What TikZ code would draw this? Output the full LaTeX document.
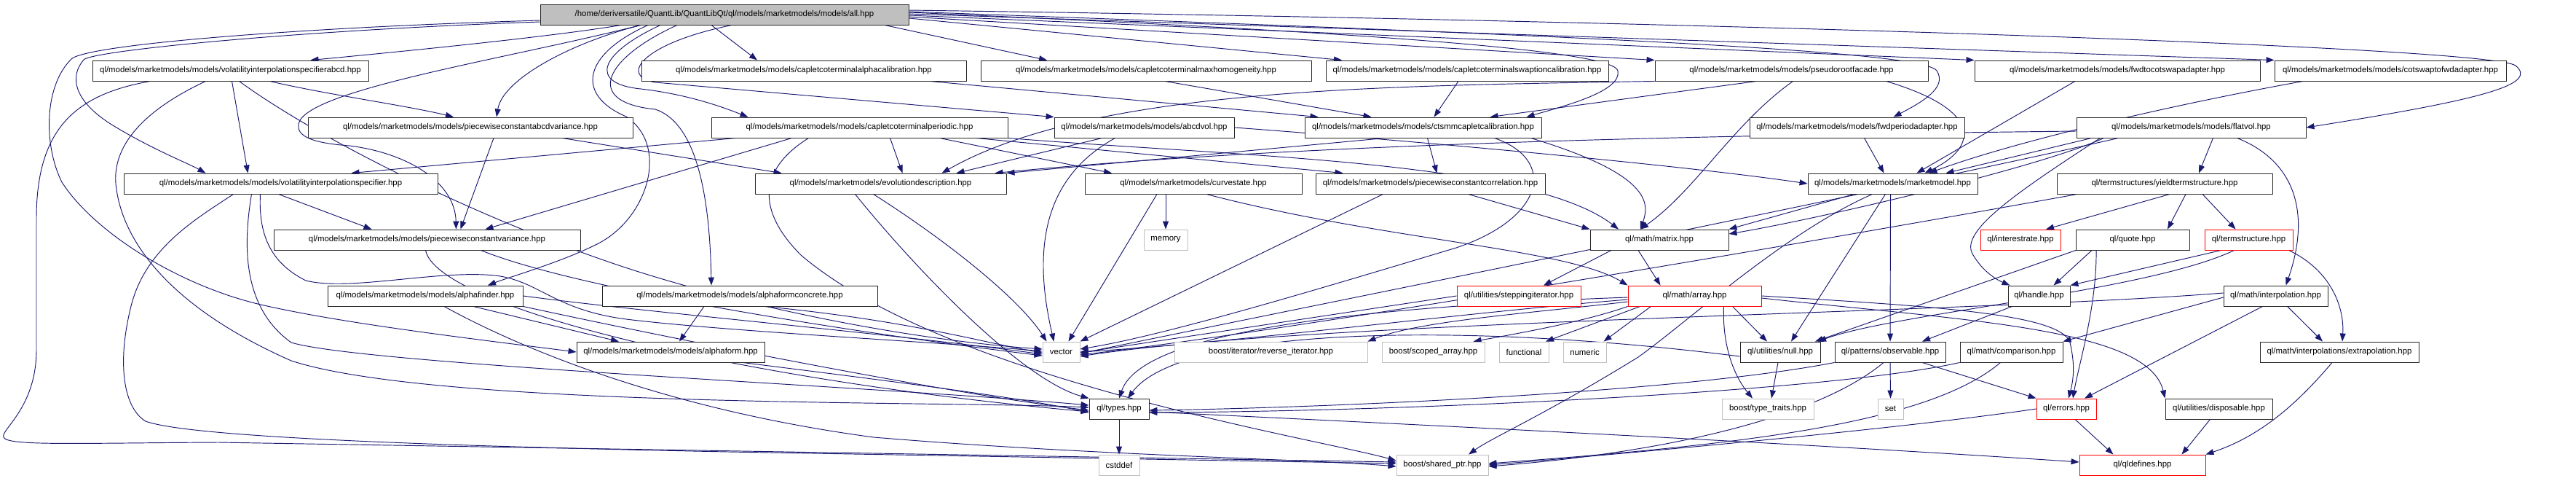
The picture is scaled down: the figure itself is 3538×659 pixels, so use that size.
\documentclass[tikz,border=0pt]{standalone}
\usepackage{fontspec}
\setmainfont{Liberation Sans}
\usetikzlibrary{arrows.meta}
\definecolor{edgec}{HTML}{191970}
\definecolor{rootfill}{HTML}{BFBFBF}
\definecolor{sysc}{HTML}{BFBFBF}
\pgfdeclarelayer{bg}
\pgfsetlayers{bg,main}
\begin{document}
\begin{tikzpicture}[x=1pt,y=-1pt,
  box/.style={draw=black!85,line width=0.9pt,fill=white,minimum height=28pt,inner sep=0pt,font=\fontsize{11.4}{13}\selectfont},
  rootbox/.style={box,fill=rootfill},
  redbox/.style={box,draw=red},
  sysbox/.style={box,draw=sysc},
  edge/.style={draw=edgec,line width=0.95pt,-{Triangle[length=11pt,width=8pt]}}]
\useasboundingbox (0,0) rectangle (3538,659);
% row 0
\node[rootbox,minimum width=506pt] (R) at (995,20) {/home/deriversatile/QuantLib/QuantLibQt/ql/models/marketmodels/models/all.hpp};
% row 1
\node[box,minimum width=379pt] (VIA) at (316.5,97) {ql/models/marketmodels/models/volatilityinterpolationspecifierabcd.hpp};
\node[box,minimum width=446pt] (CAC) at (1104,97) {ql/models/marketmodels/models/capletcoterminalalphacalibration.hpp};
\node[box,minimum width=454pt] (CMH) at (1574,97) {ql/models/marketmodels/models/capletcoterminalmaxhomogeneity.hpp};
\node[box,minimum width=388pt] (CSC) at (2015,97) {ql/models/marketmodels/models/capletcoterminalswaptioncalibration.hpp};
\node[box,minimum width=375pt] (PRF) at (2460.5,97) {ql/models/marketmodels/models/pseudorootfacade.hpp};
\node[box,minimum width=392pt] (F2C) at (2908,97) {ql/models/marketmodels/models/fwdtocotswapadapter.hpp};
\node[box,minimum width=318pt] (C2F) at (3283,97) {ql/models/marketmodels/models/cotswaptofwdadapter.hpp};
% row 2
\node[box,minimum width=446pt] (PCAV) at (646,175) {ql/models/marketmodels/models/piecewiseconstantabcdvariance.hpp};
\node[box,minimum width=407pt] (CP) at (1180.5,175) {ql/models/marketmodels/models/capletcoterminalperiodic.hpp};
\node[box,minimum width=247pt] (ABCD) at (1571.5,175) {ql/models/marketmodels/models/abcdvol.hpp};
\node[box,minimum width=325pt] (CTS) at (1954.5,175) {ql/models/marketmodels/models/ctsmmcapletcalibration.hpp};
\node[box,minimum width=295pt] (FPA) at (2550.5,175) {ql/models/marketmodels/models/fwdperiodadapter.hpp};
\node[box,minimum width=315pt] (FV) at (3009.5,175) {ql/models/marketmodels/models/flatvol.hpp};
% row 3
\node[box,minimum width=431pt] (VI) at (385.5,252) {ql/models/marketmodels/models/volatilityinterpolationspecifier.hpp};
\node[box,minimum width=345pt] (ED) at (1209.5,252) {ql/models/marketmodels/evolutiondescription.hpp};
\node[box,minimum width=298pt] (CS) at (1639,252) {ql/models/marketmodels/curvestate.hpp};
\node[box,minimum width=315pt] (PCC) at (1964.5,252) {ql/models/marketmodels/piecewiseconstantcorrelation.hpp};
\node[box,minimum width=233pt] (MM) at (2599.5,252) {ql/models/marketmodels/marketmodel.hpp};
\node[box,minimum width=296pt] (YTS) at (2973,252) {ql/termstructures/yieldtermstructure.hpp};
% row 4
\node[box,minimum width=421pt] (PCV) at (586.5,329) {ql/models/marketmodels/models/piecewiseconstantvariance.hpp};
\node[sysbox,minimum width=60pt] (MEM) at (1601,329) {memory};
\node[box,minimum width=190pt] (MAT) at (2279,329) {ql/math/matrix.hpp};
\node[redbox,minimum width=110pt] (IR) at (2775,329) {ql/interestrate.hpp};
\node[box,minimum width=156pt] (Q) at (2929,329) {ql/quote.hpp};
\node[redbox,minimum width=121pt] (TS) at (3088.5,329) {ql/termstructure.hpp};
% row 5
\node[box,minimum width=268pt] (AF) at (584,406) {ql/models/marketmodels/models/alphafinder.hpp};
\node[box,minimum width=378pt] (AFC) at (1016,406) {ql/models/marketmodels/models/alphaformconcrete.hpp};
\node[redbox,minimum width=170pt] (SI) at (2086,406) {ql/utilities/steppingiterator.hpp};
\node[redbox,minimum width=183pt] (ARR) at (2327.5,406) {ql/math/array.hpp};
\node[box,minimum width=85pt] (H) at (2800.5,406) {ql/handle.hpp};
\node[box,minimum width=143pt] (INT) at (3125.5,406) {ql/math/interpolation.hpp};
% row 6
\node[box,minimum width=258pt] (AFM) at (921,483) {ql/models/marketmodels/models/alphaform.hpp};
\node[sysbox,minimum width=51pt] (VEC) at (1457.5,483) {vector};
\node[sysbox,minimum width=265pt] (RI) at (1745.5,483) {boost/iterator/reverse\_iterator.hpp};
\node[sysbox,minimum width=141pt] (SA) at (1968.5,483) {boost/scoped\_array.hpp};
\node[sysbox,minimum width=68pt] (FUN) at (2093,483) {functional};
\node[sysbox,minimum width=59pt] (NUM) at (2176.5,483) {numeric};
\node[box,minimum width=110pt] (NULL) at (2445,483) {ql/utilities/null.hpp};
\node[box,minimum width=152pt] (OBS) at (2596,483) {ql/patterns/observable.hpp};
\node[box,minimum width=141pt] (CMP) at (2762.5,483) {ql/math/comparison.hpp};
\node[box,minimum width=218pt] (EXT) at (3213,483) {ql/math/interpolations/extrapolation.hpp};
% row 7
\node[box,minimum width=82pt] (TY) at (1537,561) {ql/types.hpp};
\node[sysbox,minimum width=126pt] (TT) at (2428,561) {boost/type\_traits.hpp};
\node[sysbox,minimum width=35pt] (SET) at (2596.5,561) {set};
\node[redbox,minimum width=82pt] (ERR) at (2838,561) {ql/errors.hpp};
\node[box,minimum width=147pt] (DIS) at (3047.5,561) {ql/utilities/disposable.hpp};
% row 8
\node[sysbox,minimum width=56pt] (CST) at (1537,638) {cstddef};
\node[sysbox,minimum width=126pt] (SP) at (1981,638) {boost/shared\_ptr.hpp};
\node[redbox,minimum width=173pt] (QD) at (2942.5,638) {ql/qldefines.hpp};

\begin{pgfonlayer}{bg}
% root edges
\draw[edge] ([xshift=-142pt]R.south) .. controls (760,50) and (560,70) .. ([xshift=110pt]VIA.north);
\draw[edge] ([yshift=-8pt]R.west) .. controls (400,38) and (110,62) .. (97,82) .. controls (60,120) and (60,200) .. (85,250) .. controls (130,320) and (250,395) .. (367,420) .. controls (480,445) and (650,465) .. (AFM.west);
\draw[edge] ([yshift=-10pt]R.west) .. controls (400,42) and (125,70) .. (115,82) .. controls (95,105) and (100,140) .. (160,175) .. controls (210,205) and (260,225) .. ([xshift=-103pt]VI.north);
\draw[edge] ([xshift=-115pt]R.south) .. controls (700,80) and (440,120) .. (412,165) .. controls (400,190) and (440,197) .. (480,200) .. controls (560,210) and (625,250) .. ([xshift=40pt]PCV.north);
\draw[edge] ([xshift=-115pt]R.south) .. controls (780,60) and (690,110) .. ([xshift=36pt]PCAV.north);
\draw[edge] ([xshift=-88pt]R.south) .. controls (820,75) and (810,115) .. (880,122) .. controls (950,130) and (1000,150) .. ([xshift=-153pt]CP.north);
\draw[edge] ([xshift=-105pt]R.south) .. controls (800,75) and (790,130) .. (860,160) .. controls (920,200) and (890,300) .. (820,335) .. controls (770,360) and (700,380) .. ([xshift=86pt]AF.north);
\draw[edge] ([xshift=-65pt]R.south) .. controls (830,80) and (800,140) .. (900,150) .. controls (960,170) and (975,280) .. ([xshift=-39pt]AFC.north);
\draw[edge] ([xshift=10pt]R.south) .. controls (880,60) and (850,105) .. (900,113) -- (ABCD.north west);
\draw[edge] ([xshift=-18pt]R.south) -- ([xshift=-64pt]CAC.north);
\draw[edge] ([xshift=220pt]R.south) -- ([xshift=-136pt]CMH.north);
\draw[edge] ([yshift=-5pt]R.east) -- ([xshift=-172pt]CSC.north);
\draw[edge] ([yshift=-3pt]R.east) -- (PRF.north west);
\draw[edge] ([yshift=-1pt]R.east) -- (F2C.north west);
\draw[edge] ([yshift=1pt]R.east) -- (C2F.north west);
\draw[edge] ([yshift=3pt]R.east) .. controls (1900,45) and (2215,70) .. (2222,97) .. controls (2228,125) and (2150,145) .. ([xshift=142pt]CTS.north);
\draw[edge] ([yshift=4pt]R.east) .. controls (2200,50) and (2640,70) .. (2660,97) .. controls (2675,120) and (2640,140) .. ([xshift=50pt]FPA.north);
\draw[edge] ([yshift=6pt]R.east) .. controls (2400,30) and (3420,65) .. (3455,90) .. controls (3485,115) and (3420,135) .. (FV.east);
% VIA
\draw[edge] ([xshift=2pt]VIA.south) -- ([xshift=-45pt]VI.north);
\draw[edge] ([xshift=54pt]VIA.south) .. controls (450,130) and (560,145) .. ([xshift=-23pt]PCAV.north);
\draw[edge] ([xshift=12pt]VIA.south) .. controls (450,200) and (700,320) .. (900,380) .. controls (1100,440) and (1300,470) .. ([yshift=4pt]VEC.west);
\draw[edge] ([xshift=-34pt]VIA.south) .. controls (200,150) and (150,200) .. (160,260) .. controls (170,330) and (230,420) .. (400,495) .. controls (600,560) and (1300,550) .. ([yshift=2pt]TY.west);
\draw[edge] ([xshift=-110pt]VIA.south) .. controls (100,130) and (50,180) .. (50,300) -- (50,480) .. controls (50,560) and (0,590) .. (5,600) .. controls (10,612) and (100,608) .. (300,607) -- ([yshift=4pt]SP.west);
% VI
\draw[edge] ([xshift=-3pt]VI.south) -- ([xshift=-76pt]PCV.north);
\draw[edge] ([xshift=-65pt]VI.south) .. controls (270,300) and (200,340) .. (180,420) .. controls (160,500) and (170,560) .. (200,578) .. controls (260,600) and (600,612) .. (1000,620) -- ([yshift=2pt]SP.west);
\draw[edge] ([xshift=-28pt]VI.south) .. controls (355,320) and (370,360) .. (420,385) .. controls (480,400) and (600,370) .. (680,378) .. controls (740,385) and (760,425) .. (860,438) .. controls (1000,455) and (1300,470) .. ([yshift=1pt]VEC.west);
\draw[edge] ([xshift=-40pt]VI.south) .. controls (335,330) and (330,420) .. (400,470) .. controls (500,500) and (1200,530) .. ([yshift=5pt]TY.west);
% PCAV
\draw[edge] ([xshift=32pt]PCAV.south) -- ([xshift=46pt]PCV.north);
\draw[edge] ([xshift=126pt]PCAV.south) -- ([xshift=-136pt]ED.north);
% row1 -> CTS
\draw[edge] ([xshift=173pt]CAC.south) -- ([xshift=-144pt]CTS.north);
\draw[edge] ([xshift=26pt]CMH.south) -- ([xshift=-71pt]CTS.north);
\draw[edge] ([xshift=-12pt]CSC.south) -- ([xshift=15pt]CTS.north);
% PRF
\draw[edge] ([xshift=-48pt]PRF.south) -- ([xshift=92pt]CTS.north);
\draw[edge] (PRF.south west) .. controls (1900,118) and (1500,120) .. ([xshift=84pt]ED.north);
\draw[edge] ([xshift=2pt]PRF.south) .. controls (2380,170) and (2330,260) .. ([xshift=-26pt]MAT.north);
\draw[edge] ([xshift=130pt]PRF.south) .. controls (2720,150) and (2720,200) .. ([xshift=44pt]MM.north);
\draw[edge] ([xshift=-58pt]F2C.south) -- ([xshift=33pt]MM.north);
\draw[edge] ([xshift=-120pt]C2F.south) .. controls (2950,150) and (2750,200) .. ([xshift=50pt]MM.north);
% CP
\draw[edge] ([xshift=-170pt]CP.south) -- ([xshift=97pt]VI.north);
\draw[edge] ([xshift=-93pt]CP.south) -- ([xshift=80pt]PCV.north);
\draw[edge] ([xshift=42pt]CP.south) -- ([xshift=30pt]ED.north);
\draw[edge] ([xshift=110pt]CP.south) -- ([xshift=-112pt]CS.north);
\draw[edge] ([xshift=160pt]CP.south) -- ([xshift=-120pt]PCC.north);
\draw[edge] (CP.south east) .. controls (1700,215) and (2100,220) .. ([xshift=-56pt]MAT.north);
\draw[edge] ([xshift=-70pt]CP.south) .. controls (1030,240) and (1050,300) .. (1100,350) .. controls (1300,520) and (1800,600) .. ([yshift=6pt]SP.west);
% ABCD
\draw[edge] ([xshift=-58pt]ABCD.south) -- ([xshift=104pt]ED.north);
\draw[edge] ([xshift=-40pt]ABCD.south) .. controls (1440,240) and (1415,330) .. ([xshift=-10pt]VEC.north);
\draw[edge] (ABCD.east) .. controls (1900,190) and (2300,225) .. (MM.west);
% CTS
\draw[edge] ([xshift=6pt]CTS.south) -- ([xshift=9pt]PCC.north);
\draw[edge] ([xshift=-52pt]CTS.south) -- (ED.north east);
\draw[edge] ([xshift=148pt]CTS.south) .. controls (2270,240) and (2265,280) .. ([xshift=-26pt]MAT.north);
\draw[edge] ([xshift=98pt]CTS.south) .. controls (2140,220) and (2120,300) .. (2000,340) .. controls (1800,400) and (1600,460) .. ([yshift=4pt]VEC.east);
% FPA, FV
\draw[edge] ([xshift=10pt]FPA.south) -- ([xshift=-12pt]MM.north);
\draw[edge] ([xshift=-137pt]FV.south) -- ([xshift=73pt]MM.north);
\draw[edge] ([yshift=-5pt]FV.west) .. controls (2400,185) and (1800,195) .. ([xshift=157pt]ED.north);
\draw[edge] ([xshift=-120pt]FV.south) .. controls (2800,230) and (2500,300) .. ([yshift=8pt]MAT.east);
\draw[edge] ([xshift=-100pt]FV.south) .. controls (2600,260) and (1800,420) .. ([yshift=-2pt]VEC.east);
\draw[edge] ([xshift=30pt]FV.south) -- ([xshift=47pt]YTS.north);
\draw[edge] ([xshift=63pt]FV.south) .. controls (3150,220) and (3175,290) .. ([xshift=14pt]INT.north);
\draw[edge] ([xshift=-125pt]FV.south) .. controls (2760,270) and (2690,320) .. (2710,350) .. controls (2725,375) and (2745,385) .. ([xshift=-40pt]H.north);
% ED, CS, PCC
\draw[edge] ([xshift=-10pt]ED.south) .. controls (1300,330) and (1400,410) .. ([xshift=-20pt]VEC.north);
\draw[edge] ([xshift=-35pt]ED.south) .. controls (1250,360) and (1400,520) .. (TY.north west);
\draw[edge] ([xshift=-38pt]CS.south) -- (MEM.north);
\draw[edge] ([xshift=-50pt]CS.south) -- ([xshift=10pt]VEC.north);
\draw[edge] ([xshift=18pt]CS.south) .. controls (1900,330) and (2150,340) .. (ARR.north west);
\draw[edge] ([xshift=52pt]PCC.south) -- (MAT.north west);
\draw[edge] ([xshift=-65pt]PCC.south) -- (VEC.north east);
% MM
\draw[edge] ([xshift=-3pt]MM.south) -- (OBS.north);
\draw[edge] ([xshift=-10pt]MM.south) -- ([xshift=15pt]NULL.north);
\draw[edge] ([xshift=-53pt]MM.south) -- (MAT.north east);
\draw[edge] ([xshift=-28pt]MM.south) .. controls (2450,320) and (2320,440) .. (2250,490) .. controls (2120,570) and (2050,600) .. ([xshift=36pt]SP.north);
% YTS
\draw[edge] ([xshift=7pt]YTS.south) -- ([xshift=35pt]IR.north);
\draw[edge] ([xshift=29pt]YTS.south) -- ([xshift=48pt]Q.north);
\draw[edge] ([xshift=52pt]YTS.south) -- ([xshift=-18pt]TS.north);
\draw[edge] ([xshift=-120pt]YTS.south) .. controls (2500,330) and (1800,450) .. ([yshift=-4pt]VEC.east);
% Q, TS, INT
\draw[edge] ([xshift=-56pt]Q.south) -- ([xshift=20pt]H.north);
\draw[edge] ([xshift=-78pt]Q.south) -- ([xshift=48pt]NULL.north);
\draw[edge] ([xshift=-50pt]Q.south) .. controls (2880,420) and (2855,500) .. ([xshift=9pt]ERR.north);
\draw[edge] ([xshift=-38pt]TS.south) -- (H.north east);
\draw[edge] ([xshift=55pt]TS.south) .. controls (3200,370) and (3220,420) .. ([xshift=4pt]EXT.north);
\draw[edge] ([xshift=-20pt]TS.south) .. controls (2950,400) and (2600,430) .. ([xshift=52pt]NULL.north);
\draw[edge] ([xshift=16pt]INT.south) -- ([xshift=-23pt]EXT.north);
\draw[edge] ([xshift=-18pt]INT.south) -- ([xshift=25pt]ERR.north);
\draw[edge] ([yshift=-2pt]INT.west) -- (CMP.north east);
\draw[edge] ([yshift=4pt]INT.west) .. controls (2700,430) and (1800,440) .. ([yshift=-6pt]VEC.east);
\draw[edge] ([xshift=-37pt]H.south) -- ([xshift=44pt]OBS.north);
% MAT, SI, ARR
\draw[edge] ([xshift=-29pt]MAT.south) -- ([xshift=-47pt]ARR.north);
\draw[edge] ([xshift=-66pt]MAT.south) -- ([xshift=34pt]SI.north);
\draw[edge] (SI.west) -- ([yshift=-1pt]VEC.east);
\draw[edge] ([xshift=52pt]ARR.south) -- ([xshift=-18pt]NULL.north);
\draw[edge] ([xshift=40pt]ARR.south) .. controls (2365,480) and (2385,520) .. ([xshift=-21pt]TT.north);
\draw[edge] ([yshift=-2pt]ARR.west) .. controls (1900,420) and (1570,450) .. (TY.north);
\draw[edge] ([yshift=-5pt]ARR.west) .. controls (2000,430) and (1700,470) .. (VEC.east);
\draw[edge] ([yshift=-8pt]ARR.west) .. controls (2100,430) and (1950,440) .. (RI.north east);
\draw[edge] (ARR.south west) .. controls (2180,440) and (2100,455) .. ([xshift=55pt]SA.north);
\draw[edge] ([xshift=-75pt]ARR.south) -- ([xshift=30pt]FUN.north);
\draw[edge] ([xshift=-60pt]ARR.south) -- ([xshift=26pt]NUM.north);
\draw[edge] (ARR.east) .. controls (2650,420) and (2830,430) .. (2843,470) .. controls (2850,500) and (2848,520) .. ([xshift=3pt]ERR.north);
\draw[edge] ([yshift=-3pt]ARR.east) .. controls (2700,440) and (2950,450) .. (DIS.north west);
% NULL, OBS, CMP
\draw[edge] ([xshift=-3pt]NULL.south) -- ([xshift=5pt]TT.north);
\draw[edge] ([yshift=-6pt]NULL.west) .. controls (2000,440) and (1620,450) .. ([xshift=12pt]TY.north);
\draw[edge] ([xshift=44pt]OBS.south) -- (ERR.north west);
\draw[edge] (OBS.south) -- (SET.north);
\draw[edge] ([xshift=-9pt]OBS.south) .. controls (2500,570) and (2300,620) .. ([yshift=-2pt]SP.east);
\draw[edge] (OBS.south west) .. controls (2300,540) and (1800,560) .. ([yshift=-2pt]TY.east);
\draw[edge] (CMP.south west) .. controls (2500,540) and (1900,565) .. ([yshift=-5pt]TY.east);
\draw[edge] ([xshift=-15pt]CMP.south) .. controls (2650,580) and (2400,610) .. ([yshift=2pt]SP.east);
% ERR, EXT, DIS, TY
\draw[edge] ([xshift=12pt]ERR.south) -- ([xshift=-40pt]QD.north);
\draw[edge] (ERR.west) .. controls (2600,590) and (2200,625) .. (SP.east);
\draw[edge] ([xshift=-10pt]EXT.south) .. controls (3150,560) and (3100,600) .. (QD.north east);
\draw[edge] ([xshift=-12pt]DIS.south) -- ([xshift=54pt]QD.north);
\draw[edge] (TY.south) -- (CST.north);
\draw[edge] ([yshift=-4pt]TY.east) .. controls (2000,585) and (2500,610) .. ([yshift=4pt]QD.west);
% AF, AFC, AFM, PCV
\draw[edge] ([xshift=66pt]AF.south) -- ([xshift=-71pt]AFM.north);
\draw[edge] (AF.east) .. controls (900,430) and (1200,455) .. ([yshift=-3pt]VEC.west);
\draw[edge] ([xshift=26pt]AF.south) .. controls (700,470) and (900,560) .. (1200,600) .. controls (1500,625) and (1800,630) .. ([yshift=-2pt]SP.west);
\draw[edge] (AF.south east) .. controls (900,460) and (1300,540) .. ([yshift=-2pt]TY.west);
\draw[edge] ([xshift=-49pt]AFC.south) -- ([xshift=12pt]AFM.north);
\draw[edge] ([xshift=34pt]AFC.south) .. controls (1250,440) and (1350,470) .. ([yshift=-1pt]VEC.west);
\draw[edge] ([xshift=99pt]AFM.south) .. controls (1200,520) and (1400,545) .. ([yshift=-5pt]TY.west);
\draw[edge] ([xshift=74pt]PCV.south) .. controls (800,400) and (1200,460) .. ([yshift=-5pt]VEC.west);
\draw[edge] ([xshift=-2pt]PCV.south) .. controls (600,420) and (1000,520) .. ([yshift=-4pt]TY.west);
\end{pgfonlayer}
\end{tikzpicture}
\end{document}
